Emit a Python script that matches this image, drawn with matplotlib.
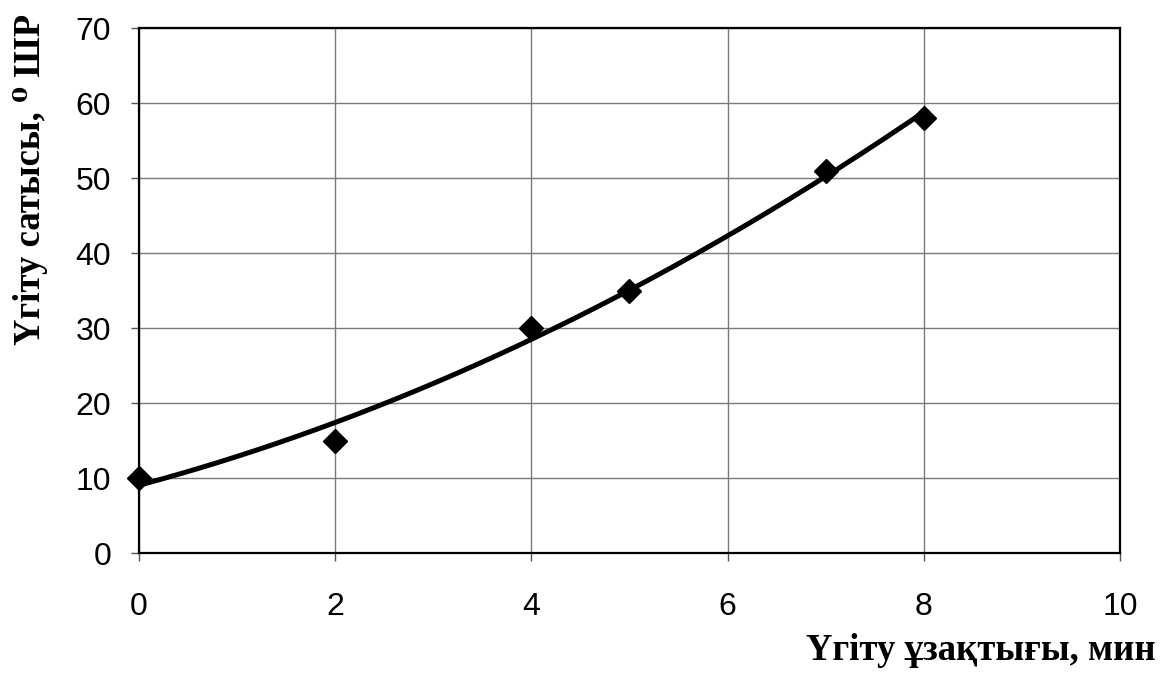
import numpy as np
import matplotlib
matplotlib.use("Agg")
import matplotlib.pyplot as plt

# Measured points: agitation time (min) vs. agitation degree (°ШР)
time_min = [0, 2, 4, 5, 7, 8]
degree = [10, 15, 30, 35, 51, 58]

x_ticks = [0, 2, 4, 6, 8, 10]
y_ticks = [0, 10, 20, 30, 40, 50, 60, 70]

x_label = "Үгіту ұзақтығы, мин"
y_label = "Үгіту сатысы, ⁰ ШР"

fig = plt.figure(figsize=(11.61, 6.73), dpi=100)
ax = fig.add_axes([0.1197, 0.1783, 0.845, 0.780])

# Second-order polynomial trend through the measurements
coef = np.polyfit(time_min, degree, 2)
xs = np.linspace(min(time_min), max(time_min), 200)
ax.plot(xs, np.polyval(coef, xs), color="black", lw=3.6, zorder=3)

ax.plot(time_min, degree, linestyle="none", marker="D", markersize=12.5,
        color="black", zorder=4, clip_on=False)

ax.set_xlim(0, 10)
ax.set_ylim(0, 70)
ax.set_xticks(x_ticks)
ax.set_yticks(y_ticks)
ax.grid(True, color="#7a7a7a", lw=1.0)
ax.set_axisbelow(True)

for s in ax.spines.values():
    s.set_linewidth(1.6)
    s.set_color("black")

ax.tick_params(axis="both", direction="out", length=6, width=1, color="#555555",
               labelsize=23)
ax.tick_params(axis="x", pad=22)
ax.tick_params(axis="y", pad=14)
for lab in ax.get_xticklabels() + ax.get_yticklabels():
    lab.set_family(["Liberation Sans", "DejaVu Sans"])

fig.text(0.995, 0.034, x_label, ha="right", va="center", fontsize=26.5,
         fontweight="bold", family=["Liberation Serif", "DejaVu Serif"])
fig.text(0.026, 0.733, y_label, ha="center", va="center", rotation=90,
         fontsize=26.5, fontweight="bold",
         family=["Liberation Serif", "DejaVu Serif"])

fig.savefig("out.png", dpi=100)
